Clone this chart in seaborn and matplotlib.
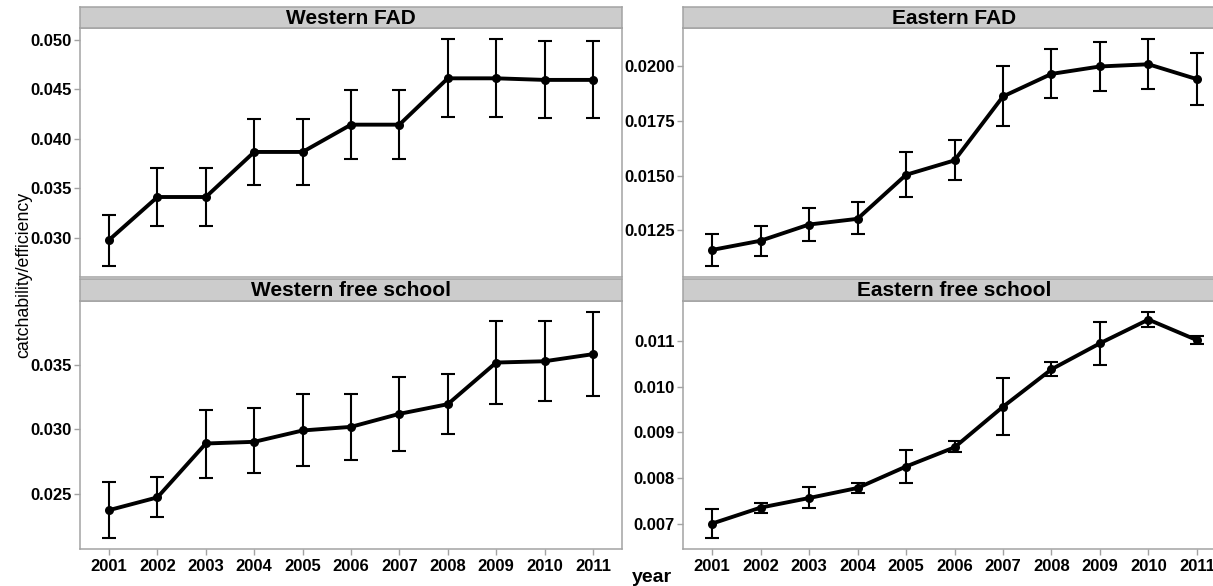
import numpy as np
import pandas as pd
import matplotlib
matplotlib.use("Agg")
import matplotlib.pyplot as plt
from matplotlib.ticker import FormatStrFormatter
import seaborn as sns

# ---- data -------------------------------------------------------------
years = [2001, 2002, 2003, 2004, 2005, 2006, 2007, 2008, 2009, 2010, 2011]

west_fad_est = [0.02981, 0.03414, 0.03414, 0.03868, 0.03868, 0.04143, 0.04143, 0.04610, 0.04610, 0.04594, 0.04594]
west_fad_lo  = [0.02722, 0.03125, 0.03125, 0.03535, 0.03535, 0.03794, 0.03794, 0.04217, 0.04217, 0.04207, 0.04207]
west_fad_hi  = [0.03233, 0.03710, 0.03710, 0.04200, 0.04200, 0.04493, 0.04493, 0.05003, 0.05003, 0.04990, 0.04990]

east_fad_est = [0.01161, 0.01203, 0.01277, 0.01303, 0.01504, 0.01570, 0.01862, 0.01965, 0.01999, 0.02009, 0.01941]
east_fad_lo  = [0.01089, 0.01133, 0.01203, 0.01232, 0.01401, 0.01479, 0.01729, 0.01854, 0.01886, 0.01894, 0.01824]
east_fad_hi  = [0.01235, 0.01271, 0.01354, 0.01380, 0.01606, 0.01662, 0.02000, 0.02078, 0.02110, 0.02123, 0.02059]

west_fs_est = [0.02374, 0.02473, 0.02891, 0.02904, 0.02992, 0.03020, 0.03121, 0.03196, 0.03519, 0.03529, 0.03584]
west_fs_lo  = [0.02160, 0.02323, 0.02622, 0.02661, 0.02718, 0.02762, 0.02834, 0.02966, 0.03194, 0.03217, 0.03256]
west_fs_hi  = [0.02594, 0.02630, 0.03152, 0.03163, 0.03274, 0.03276, 0.03405, 0.03434, 0.03842, 0.03842, 0.03909]

east_fs_est = [0.00700, 0.00735, 0.00756, 0.00778, 0.00825, 0.00867, 0.00956, 0.01038, 0.01095, 0.01147, 0.01102]
east_fs_lo  = [0.00669, 0.00724, 0.00734, 0.00768, 0.00788, 0.00856, 0.00894, 0.01024, 0.01048, 0.01131, 0.01093]
east_fs_hi  = [0.00731, 0.00744, 0.00781, 0.00790, 0.00861, 0.00880, 0.01019, 0.01054, 0.01141, 0.01163, 0.01112]

panel_names = ["Western FAD", "Eastern FAD", "Western free school", "Eastern free school"]
y_ticks = {
    "Western FAD": [0.030, 0.035, 0.040, 0.045, 0.050],
    "Eastern FAD": [0.0125, 0.0150, 0.0175, 0.0200],
    "Western free school": [0.025, 0.030, 0.035],
    "Eastern free school": [0.007, 0.008, 0.009, 0.010, 0.011],
}
y_fmt = {
    "Western FAD": "%.3f",
    "Eastern FAD": "%.4f",
    "Western free school": "%.3f",
    "Eastern free school": "%.3f",
}

series = {
    "Western FAD": (west_fad_est, west_fad_lo, west_fad_hi),
    "Eastern FAD": (east_fad_est, east_fad_lo, east_fad_hi),
    "Western free school": (west_fs_est, west_fs_lo, west_fs_hi),
    "Eastern free school": (east_fs_est, east_fs_lo, east_fs_hi),
}

frames = []
for name, (est, lo, hi) in series.items():
    frames.append(pd.DataFrame({"fleet": name, "year": years, "est": est, "lo": lo, "hi": hi}))
df = pd.concat(frames, ignore_index=True)

# ---- style ------------------------------------------------------------
sns.set_theme(style="white")
plt.rcParams["font.family"] = ["Liberation Sans", "DejaVu Sans"]
plt.rcParams["axes.linewidth"] = 1.1

W, H = 1213, 586
fig = plt.figure(figsize=(W / 100, H / 100), dpi=100)

border = "#A3A3A3"
strip_fill = "#CCCCCC"

# panel boxes in pixels: (left, top, right, bottom) of plotting area, strip top
boxes = {
    "Western FAD": (80, 28, 622, 277, 7),
    "Eastern FAD": (683, 28, 1226, 277, 7),
    "Western free school": (80, 301, 622, 549, 279),
    "Eastern free school": (683, 301, 1226, 549, 279),
}

def frac(l, t, r, b):
    return [l / W, 1 - b / H, (r - l) / W, (b - t) / H]

for name in panel_names:
    l, t, r, b, st = boxes[name]
    ax = fig.add_axes(frac(l, t, r, b))
    sub = df[df["fleet"] == name]

    ax.errorbar(sub["year"], sub["est"],
                yerr=[sub["est"] - sub["lo"], sub["hi"] - sub["est"]],
                fmt="none", ecolor="black", elinewidth=1.5,
                capsize=4.8, capthick=1.5, zorder=2)
    sns.lineplot(data=sub, x="year", y="est", ax=ax, color="black",
                 linewidth=2.8, marker="o", markersize=6.5,
                 markeredgewidth=0, errorbar=None, zorder=3)

    span = sub["hi"].max() - sub["lo"].min()
    ax.set_ylim(sub["lo"].min() - 0.05 * span, sub["hi"].max() + 0.05 * span)
    ax.set_xlim(years[0] - 0.6, years[-1] + 0.6)
    ax.set_yticks(y_ticks[name])
    ax.yaxis.set_major_formatter(FormatStrFormatter(y_fmt[name]))
    ax.set_xticks(years)
    ax.set_xlabel("")
    ax.set_ylabel("")
    ax.grid(False)
    ax.set_facecolor("white")
    for sp in ax.spines.values():
        sp.set_color(border)
        sp.set_linewidth(1.1)
    ax.tick_params(axis="both", which="major", length=4, width=1.0,
                   color=border, pad=2, labelsize=12, labelcolor="black")
    for lab in ax.get_yticklabels():
        lab.set_fontweight("bold")
    if "free school" in name:
        ax.tick_params(axis="x", bottom=True, labelbottom=True, pad=3)
        for lab in ax.get_xticklabels():
            lab.set_fontweight("bold")
    else:
        ax.tick_params(axis="x", bottom=False, labelbottom=False)
    ax.tick_params(axis="y", left=True)

    # facet strip
    sax = fig.add_axes(frac(l, st, r, t))
    sax.set_facecolor(strip_fill)
    sax.set_xticks([])
    sax.set_yticks([])
    for sp in sax.spines.values():
        sp.set_color(border)
        sp.set_linewidth(1.1)
    sax.text(0.5, 0.47, name, transform=sax.transAxes, ha="center", va="center",
             fontsize=15, fontweight="bold", color="black")

fig.text(24 / W, 1 - 275 / H, "catchability/efficiency", rotation=90,
         ha="center", va="center", fontsize=12.8, color="black")
fig.text(652 / W, 1 - 578 / H, "year", ha="center", va="center",
         fontsize=14, fontweight="bold", color="black")

fig.savefig("out.png", dpi=100)
